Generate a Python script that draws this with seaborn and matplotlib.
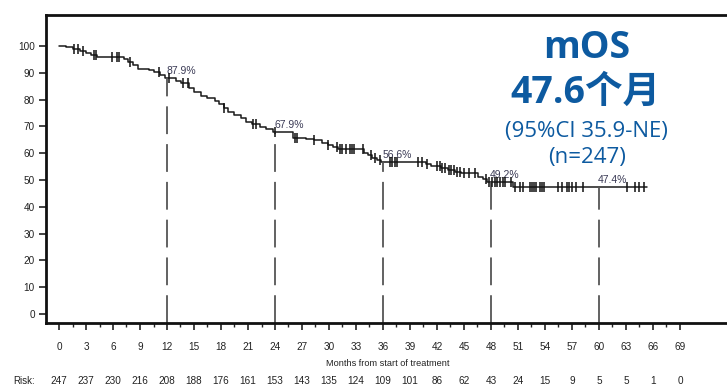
import numpy as np
import pandas as pd
import matplotlib
matplotlib.use("Agg")
import matplotlib.pyplot as plt
import seaborn as sns

# Kaplan-Meier step curve: event times (months) and survival (%) after each step
step_months = [0, 0.8, 1.5, 2.3, 3.0, 3.6, 4.2, 7.2, 7.7, 8.2, 8.8, 10.0, 10.5,
               11.2, 11.8, 13.0, 13.6, 14.5, 15.0, 15.8, 16.5, 17.3, 17.8, 18.3,
               18.8, 19.5, 20.2, 20.8, 21.5, 22.3, 23.0, 23.8, 26.0, 27.5, 28.3,
               29.2, 29.9, 30.4, 31.0, 33.9, 34.3, 34.8, 35.3, 35.8, 40.8, 41.3,
               42.5, 43.2, 44.0, 44.7, 46.6, 47.1, 47.6, 50.4, 65.3]
step_surv = [100, 99.5, 99.0, 98.2, 97.3, 96.5, 95.8, 95.0, 94.0, 92.8, 91.5, 91.0,
             90.2, 89.2, 87.9, 87.0, 86.1, 84.2, 82.8, 81.2, 80.5, 79.5, 78.2, 76.8,
             75.5, 74.2, 73.0, 71.8, 70.8, 69.8, 68.9, 67.9, 65.8, 65.3, 64.9,
             64.0, 63.1, 62.2, 61.4, 60.2, 59.3, 58.3, 57.5, 56.6, 56.0, 55.2,
             54.6, 53.7, 53.0, 52.5, 51.2, 50.4, 49.2, 47.4, 47.4]

# Censored observations (months)
censor_months = [1.7, 2.1, 2.7, 3.9, 4.1, 5.9, 6.4, 6.7, 7.9, 11.1, 12.2, 13.8, 14.3,
                 18.3, 21.6, 21.9, 24.0, 26.2, 26.5, 28.3, 29.9, 30.9, 31.2, 31.5,
                 31.9, 32.3, 32.6, 32.8, 33.8, 34.7, 35.1, 35.7, 36.8, 37.0, 37.3,
                 37.6, 39.9, 40.3, 40.9, 42.0, 42.3, 42.6, 42.9, 43.3, 43.6, 43.9,
                 44.2, 44.6, 45.0, 45.6, 46.2, 47.4, 47.8, 48.1, 48.4, 48.7, 49.0,
                 49.3, 49.6, 50.2, 50.7, 51.2, 51.6, 52.3, 52.6, 52.8, 53.0, 53.4,
                 53.7, 53.9, 55.5, 55.9, 56.4, 56.7, 57.0, 57.4, 58.2, 63.1, 64.0,
                 64.5, 65.0]

# Landmark survival estimates
landmark_months = [12, 24, 36, 48, 60]
landmark_surv = [87.9, 67.9, 56.6, 49.2, 47.4]
landmark_labels = ["87.9%", "67.9%", "56.6%", "49.2%", "47.4%"]

# Number at risk
risk_months = list(range(0, 70, 3))
risk_counts = [247, 237, 230, 216, 208, 188, 176, 161, 153, 143, 135, 124, 109,
               101, 86, 62, 43, 24, 15, 9, 5, 5, 1, 0]

y_ticks = list(range(0, 101, 10))

title_lines = ["mOS", "47.6个月", "(95%CI 35.9-NE)", "(n=247)"]

sns.set_theme(style="white")
plt.rcParams["font.family"] = ["Liberation Sans", "DejaVu Sans"]
plt.rcParams["lines.scale_dashes"] = False

W, H = 727, 389
fig = plt.figure(figsize=(W / 100, H / 100), dpi=100)
fig.patch.set_facecolor("white")

# axes frame in pixel coordinates (0 months at x=59, 9 px per month)
x0, x1, ytop, ybot = 46, 740, 15, 323
ax = fig.add_axes([x0 / W, 1 - ybot / H, (x1 - x0) / W, (ybot - ytop) / H])

curve = pd.DataFrame({"month": step_months, "surv": step_surv})
sns.lineplot(data=curve, x="month", y="surv", drawstyle="steps-post",
             color="#1a1a1a", linewidth=1.1, ax=ax, estimator=None, sort=False)

# censor ticks sit on the curve
idx = np.searchsorted(np.array(step_months), np.array(censor_months), side="right") - 1
cens = pd.DataFrame({"month": censor_months,
                     "surv": np.array(step_surv)[idx]})
sns.scatterplot(data=cens, x="month", y="surv", marker="|", s=55,
                color="#111111", linewidth=1.1, ax=ax, zorder=4)

ymin, ymax = -3.36, 111.6
xmin, xmax = (x0 - 59) / 9, (x1 - 59) / 9

for m, s, lab in zip(landmark_months, landmark_surv, landmark_labels):
    ln, = ax.plot([m, m], [ymin, s], color="#555555", linewidth=1.3, zorder=2)
    ln.set_linestyle((0, (20, 7.2)))
    ax.text(m - 0.1, s + 0.9, lab, fontsize=7.5, color="#3a3a55",
            ha="left", va="bottom")

ax.set_xlim(xmin, xmax)
ax.set_ylim(ymin, ymax)
ax.set_xticks(risk_months)
ax.set_xticklabels([str(m) for m in risk_months], fontsize=7.2, color="#222222")
ax.set_xticks(np.arange(1.5, 69, 3), minor=True)
ax.set_yticks(y_ticks)
ax.set_yticklabels([str(v) for v in y_ticks], fontsize=7.2, color="#222222")
ax.tick_params(axis="x", which="major", direction="out", length=5, width=1.2,
               color="#222222", pad=9, bottom=True)
ax.tick_params(axis="x", which="minor", direction="out", length=3, width=1.0,
               color="#222222", bottom=True)
ax.tick_params(axis="y", which="major", direction="out", length=5, width=1.2,
               color="#222222", pad=3, left=True)
ax.set_xlabel("")
ax.set_ylabel("")
for side in ["left", "bottom", "top", "right"]:
    ax.spines[side].set_visible(True)
    ax.spines[side].set_color("#111111")
    ax.spines[side].set_linewidth(2.0)

# axis title and number-at-risk row
fig.text(388 / W, 1 - 364 / H, "Months from start of treatment", fontsize=6.6,
         color="#222222", ha="center", va="center")
fig.text(13 / W, 1 - 381 / H, "Risk:", fontsize=7, color="#222222",
         ha="left", va="center")
for m, n in zip(risk_months, risk_counts):
    fig.text((59 + 9 * m) / W, 1 - 381 / H, str(n), fontsize=7.2,
             color="#222222", ha="center", va="center")

# median overall survival annotation
blue = "#0d5aa0"
fam = ["Open Sans", "Noto Sans CJK SC", "DejaVu Sans"]
fig.text(587 / W, 1 - 48 / H, title_lines[0], fontsize=27, fontweight="bold",
         color=blue, ha="center", va="center", family=fam)
fig.text(585 / W, 1 - 93 / H, title_lines[1], fontsize=27, fontweight="bold",
         color=blue, ha="center", va="center", family=fam)
fig.text(586 / W, 1 - 131 / H, title_lines[2], fontsize=16, color=blue,
         ha="center", va="center", family=fam)
fig.text(587 / W, 1 - 158 / H, title_lines[3], fontsize=16, color=blue,
         ha="center", va="center", family=fam)

fig.savefig("out.png", dpi=100, facecolor="white")
